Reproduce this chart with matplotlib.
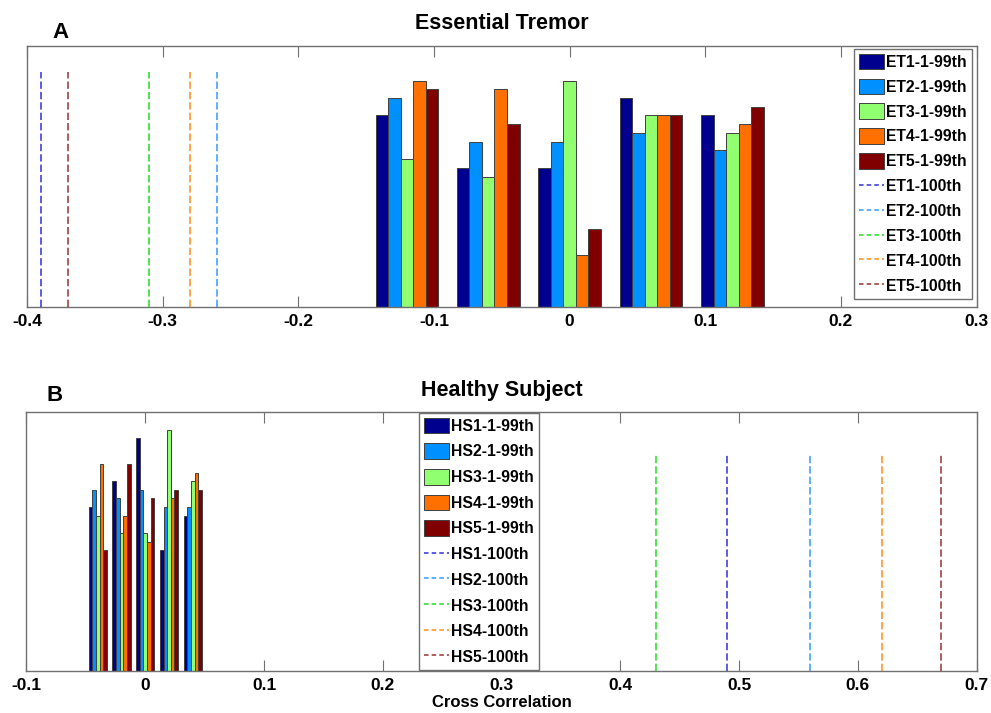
import matplotlib
matplotlib.use("Agg")
import matplotlib.pyplot as plt
from matplotlib.lines import Line2D
from matplotlib.patches import Patch

# --- data ---
et_centers = [-0.12, -0.06, 0.0, 0.06, 0.12]
et1_counts = [22, 16, 16, 24, 22]
et2_counts = [24, 19, 19, 20, 18]
et3_counts = [17, 15, 26, 22, 20]
et4_counts = [26, 25, 6, 22, 21]
et5_counts = [25, 21, 9, 22, 23]
et_thresholds = [-0.39, -0.26, -0.31, -0.28, -0.37]   # 100th percentile lines
et_line_top = 27

hs_centers = [-0.04, -0.02, 0.0, 0.02, 0.04]
hs1_counts = [19, 22, 27, 14, 18]
hs2_counts = [21, 20, 21, 19, 19]
hs3_counts = [18, 16, 16, 28, 22]
hs4_counts = [24, 18, 15, 20, 23]
hs5_counts = [14, 24, 20, 21, 21]
hs_thresholds = [0.49, 0.56, 0.43, 0.62, 0.67]
hs_line_top = 25

# jet(5) like matlab
bar_colors = ["#00008f", "#0090ff", "#90ff70", "#ff7000", "#800000"]
line_colors = ["#3030e0", "#3399ff", "#22dd22", "#ff8c1a", "#993333"]

FONT = ["Liberation Sans", "DejaVu Sans"]
plt.rcParams["font.family"] = FONT
plt.rcParams["font.weight"] = "bold"
FRAME = "#707070"


def draw_panel(ax, centers, series, thresholds, line_top, prefix, xlim, ticks):
    n = len(series)
    spacing = centers[1] - centers[0]
    group_w = spacing * n / (n + 1.5)
    bw = group_w / n
    for i, counts in enumerate(series):
        xs = [c + (i - (n - 1) / 2) * bw for c in centers]
        ax.bar(xs, counts, width=bw, color=bar_colors[i], edgecolor="#404040",
               linewidth=0.7, zorder=2)
    for i, t in enumerate(thresholds):
        ax.plot([t, t], [0, line_top], color=line_colors[i], lw=1.1,
                dashes=(4.8, 2.0), zorder=3)

    ax.set_xlim(*xlim)
    ax.set_ylim(0, 30)
    ax.set_xticks(ticks)
    ax.set_xticklabels([("%g" % t) for t in ticks])
    ax.set_yticks([])
    ax.tick_params(axis="x", direction="in", top=True, length=8, width=0.8,
                   color=FRAME, labelsize=12.5, pad=5)
    for lab in ax.get_xticklabels():
        lab.set_fontweight("bold")
    for sp in ax.spines.values():
        sp.set_color(FRAME)
        sp.set_linewidth(1.0)

    handles = [Patch(facecolor=bar_colors[i], edgecolor="#404040", linewidth=0.7,
                     label="%s%d-1-99th" % (prefix, i + 1)) for i in range(n)]
    handles += [Line2D([], [], color=line_colors[i], lw=1.1, dashes=(3, 2),
                       label="%s%d-100th" % (prefix, i + 1)) for i in range(n)]
    return handles


fig = plt.figure(figsize=(9.91, 7.13), dpi=100)
ax_a = fig.add_axes([0.0272, 0.569, 0.9583, 0.3669])
ax_b = fig.add_axes([0.0267, 0.0593, 0.9588, 0.3624])

h_a = draw_panel(ax_a, et_centers,
                 [et1_counts, et2_counts, et3_counts, et4_counts, et5_counts],
                 et_thresholds, et_line_top, "ET", (-0.4, 0.3),
                 [-0.4, -0.3, -0.2, -0.1, 0, 0.1, 0.2, 0.3])
h_b = draw_panel(ax_b, hs_centers,
                 [hs1_counts, hs2_counts, hs3_counts, hs4_counts, hs5_counts],
                 hs_thresholds, hs_line_top, "HS", (-0.1, 0.7),
                 [-0.1, 0, 0.1, 0.2, 0.3, 0.4, 0.5, 0.6, 0.7])

leg_kw = dict(bbox_transform=fig.transFigure, borderaxespad=0,
              fancybox=False, framealpha=1, edgecolor=FRAME,
              prop={"family": FONT, "weight": "bold", "size": 11.3},
              handlelength=1.6, handleheight=1.15, handletextpad=0.15,
              borderpad=0.3)
ax_a.legend(handles=h_a, loc="upper right", bbox_to_anchor=(0.9805, 0.9313),
            labelspacing=0.56, **leg_kw)
ax_b.legend(handles=h_b, loc="upper left", bbox_to_anchor=(0.4228, 0.4208),
            labelspacing=0.61, **leg_kw)

ax_a.set_title("Essential Tremor", fontsize=15.5, fontweight="bold", pad=12)
ax_b.set_title("Healthy Subject", fontsize=15.5, fontweight="bold", pad=12)
ax_b.set_xlabel("Cross Correlation", fontsize=12, fontweight="bold", labelpad=2)

fig.text(0.061, 0.955, "A", fontsize=16, fontweight="bold", ha="center", va="center")
fig.text(0.0555, 0.446, "B", fontsize=16, fontweight="bold", ha="center", va="center")

fig.savefig("out.png", dpi=100)
